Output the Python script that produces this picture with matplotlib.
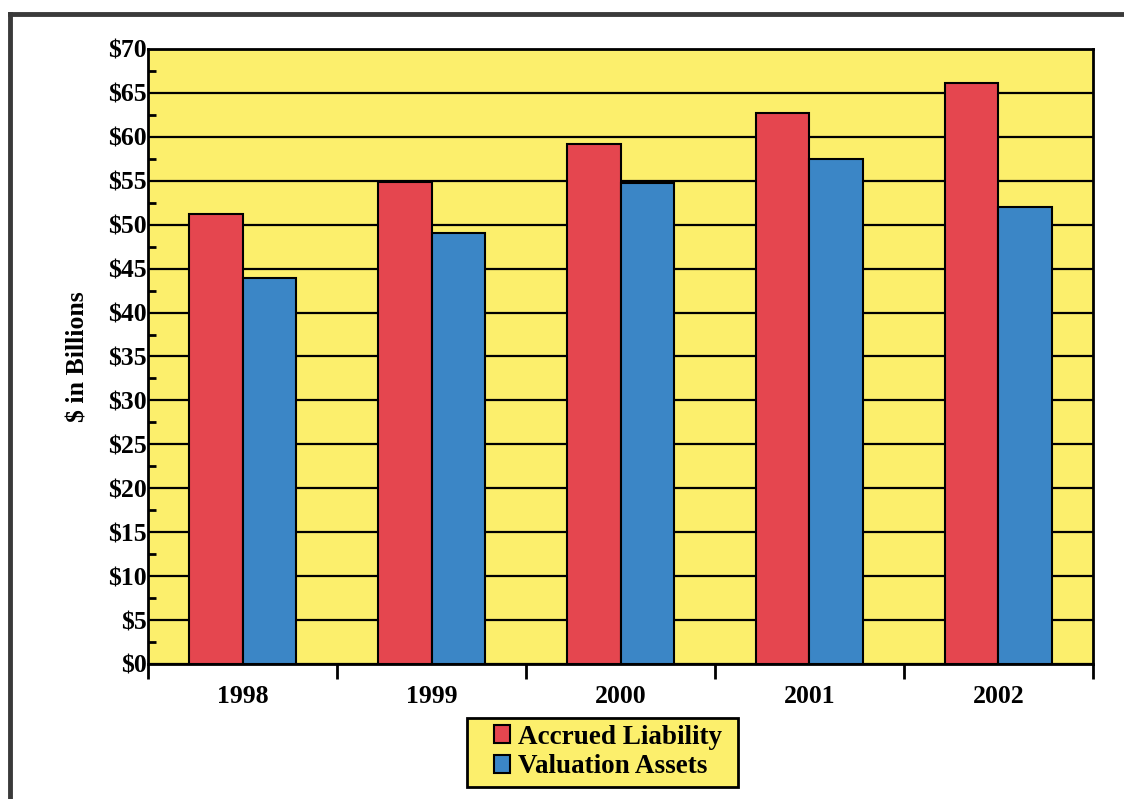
import matplotlib
matplotlib.use("Agg")
import matplotlib.pyplot as plt
from matplotlib.lines import Line2D
from matplotlib.patches import Rectangle
from matplotlib.ticker import MultipleLocator, FuncFormatter
import numpy as np

# pension funding, $ billions
years = ["1998", "1999", "2000", "2001", "2002"]
accrued_liability = [51.2, 54.9, 59.2, 62.75, 66.1]
valuation_assets = [43.9, 49.0, 54.7, 57.5, 52.05]

RED = "#e5464f"
BLUE = "#3b86c6"
YELLOW = "#fcef6c"

plt.rcParams["font.family"] = ["Liberation Serif", "DejaVu Serif"]
plt.rcParams["font.weight"] = "bold"
plt.rcParams["axes.labelweight"] = "bold"

fig = plt.figure(figsize=(11.24, 7.99), dpi=100)
ax = fig.add_axes([0.1317, 0.1690, 0.8407, 0.7697])
ax.set_facecolor(YELLOW)

x = np.arange(len(years))
w = 0.285
ax.bar(x - w / 2, accrued_liability, w, color=RED, edgecolor="black",
       linewidth=1.5, label="Accrued Liability", zorder=3)
ax.bar(x + w / 2, valuation_assets, w, color=BLUE, edgecolor="black",
       linewidth=1.5, label="Valuation Assets", zorder=3)

ax.set_xlim(-0.5, len(years) - 0.5)
ax.set_ylim(0, 70)

# y axis: dollar labels every 5, small inward ticks in between
ax.yaxis.set_major_locator(MultipleLocator(5))
ax.yaxis.set_minor_locator(MultipleLocator(2.5))
ax.yaxis.set_major_formatter(FuncFormatter(lambda v, p: f"${v:.0f}"))
ax.tick_params(axis="y", which="major", length=0, pad=1, labelsize=18.5)
ax.tick_params(axis="y", which="minor", direction="in", length=6, width=2)
ax.grid(axis="y", which="major", color="black", linewidth=1.6, zorder=1)

# x axis: ticks on category boundaries, labels at centers
ax.set_xticks(np.arange(-0.5, len(years), 1.0))
ax.set_xticklabels([])
ax.set_xticks(x, minor=True)
ax.set_xticklabels(years, minor=True)
ax.tick_params(axis="x", which="major", direction="out", length=11, width=2)
ax.tick_params(axis="x", which="minor", length=0, pad=15, labelsize=18.5)

for s in ax.spines.values():
    s.set_linewidth(2)
    s.set_color("black")
ax.set_axisbelow(True)

ax.set_ylabel("$ in Billions", fontsize=18.5, labelpad=13)

# legend box: frame drawn separately so it can be wider than the entries
fig.add_artist(Rectangle((467 / 1124, 1 - 787 / 799), 271 / 1124, 69 / 799,
                         transform=fig.transFigure, facecolor=YELLOW,
                         edgecolor="black", linewidth=2, zorder=1))
leg = fig.legend(loc="center", bbox_to_anchor=(608 / 1124, 1 - 752 / 799),
                 fontsize=19.5, frameon=False,
                 handlelength=0.62, handleheight=0.62, handletextpad=0.3,
                 labelspacing=0.18, borderpad=0, borderaxespad=0)
leg.set_zorder(2)

# page frame lines
fig.add_artist(Line2D([10 / 1124, 1.0], [1 - 14 / 799, 1 - 14 / 799],
                      color="#3a3a3a", linewidth=3.5))
fig.add_artist(Line2D([10 / 1124, 10 / 1124], [1 - 14 / 799, 0.0],
                      color="#3a3a3a", linewidth=3.5))

fig.savefig("out.png", dpi=100, facecolor="white")
